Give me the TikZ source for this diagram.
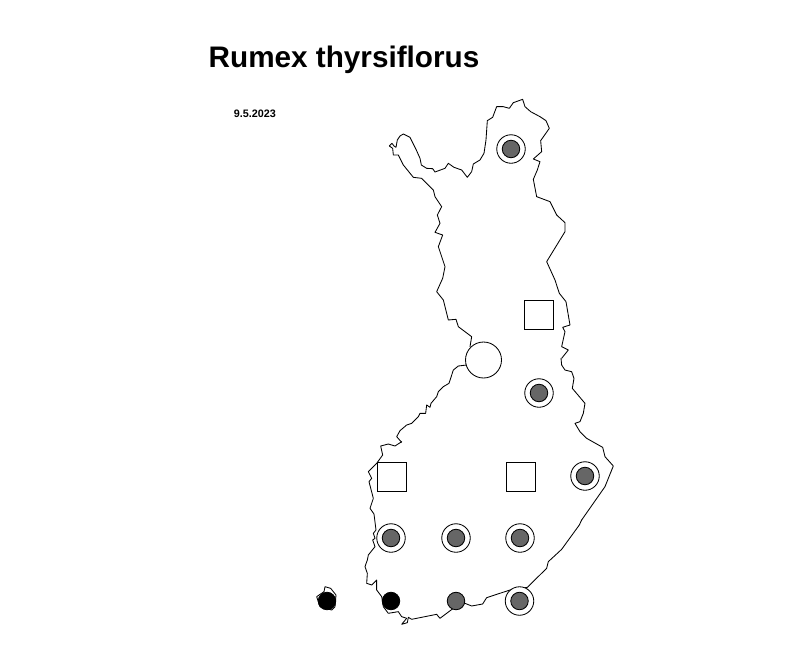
\documentclass[tikz,border=0pt]{standalone}
\usepackage{fontspec}
\setmainfont{Liberation Sans}
\definecolor{dotgray}{HTML}{666666}
\tikzset{
  outline/.style={draw=black,line width=0.85pt,line join=round,line cap=round},
  zone/.style={draw=black,line width=0.85pt,fill=white,inner sep=0pt,outer sep=0pt},
  bigring/.style={zone,circle,minimum size=36pt},
  squarebox/.style={zone,rectangle,minimum size=29pt},
  ring/.style={zone,circle,minimum size=28.5pt},
  dotmid/.style={zone,circle,minimum size=17.5pt,fill=dotgray},
  dotblack/.style={zone,circle,minimum size=17.5pt,fill=black},
  titletext/.style={inner sep=0pt,anchor=base west,font=\bfseries\fontsize{29.7}{34}\selectfont},
  datetext/.style={inner sep=0pt,anchor=base west,font=\bfseries\fontsize{10.8}{12}\selectfont}
}
\begin{document}
\begin{tikzpicture}[x=1pt,y=-1pt]
\useasboundingbox (0,0) rectangle (800,651);
% outline pieces, each in the pixel frame of one region
\begin{scope}[xshift=380pt,yshift=-90pt,x=0.3333pt,y=-0.3333pt]
\draw[outline] (28,168)--(36,160)--(42,168)--(48,172)--(52,150)--(60,138)--(70,132)--(90,142)--(108,178)--(120,205)--(124,225)--(140,235)--(158,236)--(165,246)--(195,235)--(205,220)--(222,232)--(245,240)--(262,262)--(275,245)--(280,222)--(300,210)--(312,190)--(318,150)--(322,92)--(338,82)--(350,50)--(370,50)--(388,55)--(400,38)--(428,28)--(435,50)--(452,65)--(480,80)--(498,92)--(508,115)--(482,152)--(485,185)--(460,207)--(480,215)--(472,240)--(460,268)--(470,320)--(510,335)--(530,375);
\draw[outline] (185,350)--(165,320)--(160,300)--(125,265)--(100,262)--(70,225)--(55,195)--(40,195)--(38,175)--(28,168);
\end{scope}
\begin{scope}[xshift=420pt,yshift=-200pt,x=0.3333pt,y=-0.3333pt]
\draw[outline] (410,45)--(435,68)--(435,95)--(380,185)--(405,240)--(418,280)--(438,305)--(450,375)--(428,382)--(435,395)--(425,440)--(445,450)--(425,475);
\draw[outline] (150,440)--(155,410)--(115,380)--(108,358)--(85,360)--(70,300)--(50,275)--(68,235)--(75,200)--(55,140)--(68,105)--(45,97)--(60,70)--(52,45)--(65,20);
\end{scope}
\begin{scope}[xshift=360pt,yshift=-350pt,x=0.3333pt,y=-0.3333pt]
\draw[outline] (603,25)--(605,45)--(615,60)--(635,65)--(642,85)--(637,115)--(675,160)--(670,190)--(660,215)--(645,220)--(660,245)--(680,265)--(728,292)--(735,320)--(760,348)--(735,410)--(665,510);
\end{scope}
\begin{scope}[xshift=395pt,yshift=-360pt,x=0.3333pt,y=-0.3333pt]
\draw[outline] (20,247)--(5,230)--(15,212)--(35,195)--(50,190)--(70,170)--(75,160)--(92,160)--(95,135)--(105,142)--(108,130)--(125,110)--(130,95)--(145,80)--(162,70)--(175,30)--(190,18)--(215,15);
\end{scope}
\begin{scope}[xshift=360pt,yshift=-440pt,x=0.3333pt,y=-0.3333pt]
\draw[outline] (140,535)--(125,530)--(115,515)--(85,520)--(70,500)--(65,470)--(50,450)--(50,420)--(35,435)--(20,430)--(22,400)--(15,380)--(22,360)--(25,345)--(45,320)--(38,300)--(45,295)--(40,280)--(48,270)--(42,222)--(30,205)--(40,175)--(27,125)--(35,115)--(25,95)--(50,70)--(68,45)--(62,18)--(85,12)--(105,18)--(125,5);
\end{scope}
\begin{scope}[xshift=300pt,yshift=-500pt,x=0.3333pt,y=-0.3333pt]
\draw[outline] (845,60)--(838,75)--(785,148)--(745,185)--(740,205)--(682,262)--(630,270)--(560,293)--(548,312)--(515,318)--(495,310)--(460,325)--(420,355)--(410,343)--(375,350)--(335,358)--(325,352)--(322,368)--(305,373)--(320,355);
\draw[outline] (50,290)--(72,275)--(75,260)--(92,265)--(108,285)--(105,320)--(95,330)--(60,320)--cycle;
\end{scope}
\node[bigring] (c1) at (483.5,360) {};
\node[squarebox] (s1) at (539,315) {};
\node[squarebox] (s2) at (392,477) {};
\node[squarebox] (s3) at (521,477) {};
\foreach \n/\x/\y in {a/511/149,b/539/393,c/585/476,d/391/538,e/456/538,f/520/538,g/519.5/601}{
  \node[ring] (r\n) at (\x,\y) {};
  \node[dotmid] (d\n) at (\x,\y) {};
}
\node[dotmid] (h) at (456,601) {};
\node[dotblack] (k1) at (391,601) {};
\node[dotblack] (k2) at (327,601) {};
\node[titletext] (title) at (208.5,67.5) {Rumex thyrsiflorus};
\node[datetext] (date) at (233.7,117.5) {9.5.2023};
\end{tikzpicture}
\end{document}
